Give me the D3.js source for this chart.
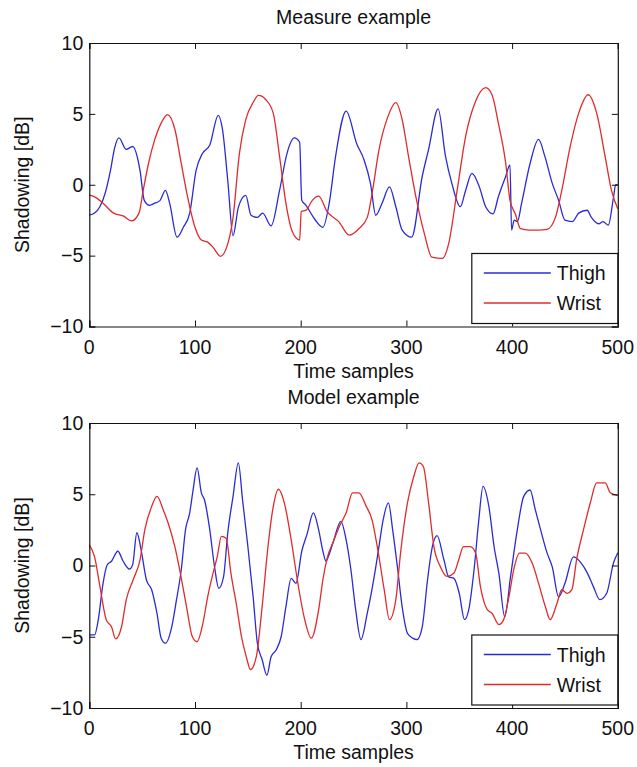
<!DOCTYPE html>
<html>
<head>
<meta charset="utf-8">
<script src="https://cdn.jsdelivr.net/npm/d3@7"></script>
<style>
  html, body { margin: 0; padding: 0; background: #fff; }
  svg { display: block; font-family: "Liberation Sans", Arial, Helvetica, sans-serif; }
</style>
</head>
<body>
<svg id="chart" width="637" height="767"></svg>
<script>
// ---------- data (sample index, shadowing dB) ----------
const xTicks = [0, 100, 200, 300, 400, 500];
const yTicks = [-10, -5, 0, 5, 10];
const seriesNames = ["Thigh", "Wrist"];
const panelTitles = ["Measure example", "Model example"];
const xLabel = "Time samples";
const yLabel = "Shadowing [dB]";

const measureThigh = [
  [0,-2.15],[5,-2.0],[10,-1.55],[15,-0.6],[20,1.0],[24,2.6],[28,3.3],[35,2.5],[41,2.7],[48,1.0],
  [52,-1.1],[57,-1.45],[62,-1.3],[67,-1.1],[72,-0.4],[76,-1.3],[83,-3.7],[89,-3.0],[95,-2.0],
  [101,1.0],[107,2.2],[114,2.8],[122,4.9],[126,3.9],[131,0.3],[136,-3.6],[141,-1.6],[148,-0.75],
  [153,-2.15],[159,-2.3],[164,-2.0],[172,-2.9],[180,-0.4],[187,2.2],[194,3.3],[199,3.0],[201,-1.1],
  [205,-1.45],[213,-2.4],[221,-3.0],[227,-1.3],[233,2.0],[243,5.2],[253,2.9],[260,1.75],[266,0.1],
  [271,-2.15],[277,-1.3],[284,-0.15],[290,-1.55],[296,-3.2],[305,-3.7],[315,0.6],[321,2.5],[330,5.35],
  [337,2.0],[343,0.1],[351,-1.55],[356,-0.4],[362,0.8],[369,-0.15],[375,-1.55],[382,-2.05],[387,-0.85],
  [394,0.6],[398,1.4],[399.5,-3.2],[402,-2.5],[405,-2.6],[409,-1.3],[417,1.5],[425,3.2],[431,2.0],
  [438,0.1],[444,-1.1],[450,-2.5],[457,-2.6],[463,-2.0],[471,-1.8],[475,-2.3],[482,-2.75],[486,-2.6],
  [491,-2.85],[496,-0.85],[498,0],[500,0]
];
const measureWrist = [
  [0,-0.73],[5,-0.85],[13,-1.3],[23,-2.0],[32,-2.2],[40,-2.55],[47,-2.0],[51,-0.4],[56,1.5],[62,3.2],
  [68,4.35],[74,4.95],[81,3.9],[87,1.5],[93,-0.85],[100,-3.0],[106,-3.9],[112,-4.05],[117,-4.4],
  [124,-5.05],[130,-4.4],[136,-2.3],[142,2.2],[148,4.6],[155,5.8],[160,6.3],[167,6.0],[174,5.05],
  [180,2.0],[186,-1.3],[192,-3.3],[199,-3.9],[200.5,-1.9],[205,-1.8],[211,-1.1],[217,-0.8],[225,-1.9],
  [236,-2.6],[246,-3.55],[255,-3.1],[263,-2.3],[268,-0.4],[274,2.45],[282,4.7],[290,5.8],[296,4.6],
  [302,2.0],[309,-0.85],[317,-3.45],[324,-5.1],[334,-5.2],[340,-4.15],[348,-0.4],[356,3.4],[365,5.8],
  [375,6.85],[381,6.35],[387,4.35],[394,1.5],[398,-1.1],[403,-2.05],[408,-3.1],[416,-3.2],[425,-3.2],
  [433,-3.15],[441,-2.3],[447,-0.4],[455,2.7],[463,5.05],[472,6.35],[480,5.05],[488,2.0],[494,-0.4],
  [500,-1.7]
];
const modelThigh = [
  [0,-4.87],[5,-4.87],[8.5,-3.8],[13,-1.25],[17,0.05],[21,0.3],[27,1.0],[32,0.3],[38,-0.25],[41,0.05],
  [45,2.3],[49,1.1],[54,-1.0],[59,-1.7],[64,-3.35],[68,-5.1],[72,-5.45],[78,-4.3],[82.5,-2.4],[87,-0.3],
  [91,2.5],[95,3.7],[98,5.2],[102,6.85],[106,5.1],[109,4.6],[114,2.5],[118.5,-0.1],[122.5,-1.6],
  [127,-0.8],[131,2.3],[136,4.85],[141,7.2],[145,4.6],[150,1.35],[155,-2.2],[159,-5.45],[163.5,-6.6],
  [168,-7.7],[172,-6.4],[177,-5.9],[181.5,-5.0],[186,-2.9],[191,-0.9],[195.5,-1.25],[201,1.0],[206,2.2],
  [212,3.7],[217,2.5],[221,1.0],[224,0.3],[226,0.6],[231,1.7],[238,3.1],[243,1.8],[247.5,-0.3],
  [252,-3.1],[257,-5.2],[263,-3.35],[269.5,-0.8],[274,1.3],[278,3.2],[283,4.4],[287,2.5],[291.5,-0.1],
  [296,-2.9],[301,-4.75],[306,-5.1],[310,-5.2],[315,-4.3],[320,-1.0],[324.5,1.3],[329,2.1],[335.5,0.4],
  [340,-0.8],[345,-0.9],[350,-1.95],[355,-3.8],[359,-3.1],[364,-0.3],[368.5,3.2],[372.5,5.55],[378,4.15],
  [383,1.3],[387.5,-0.55],[393,-3.6],[398.5,-0.8],[404.5,2.3],[411,4.85],[417,5.3],[422,3.9],[427,2.5],
  [433,0.9],[438,-0.1],[444,-2.2],[450,-1.25],[458,0.6],[465,0.2],[471,-0.5],[477,-1.5],[483,-2.4],
  [489.5,-1.95],[496,0.2],[500,0.9]
];
const modelWrist = [
  [0,1.45],[5,0.6],[10,-1.45],[16,-3.8],[21,-4.3],[25,-5.15],[30.5,-4.3],[35,-2.4],[41.5,-1.0],[48,0.4],
  [52.5,2.5],[59,4.15],[64,4.85],[70,3.9],[74.5,3.0],[81,1.3],[85.5,-0.3],[92,-2.9],[97.5,-5.0],
  [102,-5.35],[107.5,-4.05],[112,-2.2],[117,-0.55],[121,0.6],[125,2.05],[129.5,1.9],[134,-0.55],
  [139,-2.65],[144,-5.0],[148.5,-6.4],[152.5,-7.3],[158,-6.4],[163.5,-2.9],[169,1.3],[173.5,3.9],
  [179,5.35],[184.5,4.4],[191,1.8],[197,-1.1],[203.5,-3.7],[210,-5.1],[217,-3.1],[221,-1.0],[225,0.5],
  [231,1.7],[237,2.8],[243,3.7],[249,5.1],[255,5.1],[262,4.15],[267.5,3.2],[272.5,1.3],[279,-1.7],
  [284,-3.8],[290,-2.4],[294.5,0.9],[301,4.4],[307,6.25],[312,7.2],[316,6.95],[321,4.4],[326,1.33],
  [332,-0.07],[338.5,-0.77],[345,-0.53],[349.5,0.4],[354,1.33],[360.5,1.33],[365.5,0.87],[370,-1.47],
  [376.5,-3.1],[381,-3.35],[387.5,-4.15],[392,-3.8],[397,-2.2],[401.5,-0.3],[407,0.87],[412.5,0.87],
  [419,0.17],[425,-1.24],[431.5,-2.9],[436,-3.8],[442.5,-2.65],[447,-1.7],[452,-1.95],[456.5,-1.7],
  [461,0.4],[467.5,2.5],[474,4.4],[480,5.8],[488,5.8],[493,5.1],[500,4.9]
];

// ---------- layout ----------
const colors = { Thigh: "#2b2bd6", Wrist: "#e02b2b" };
const panels = [
  { title: panelTitles[0], top: 43, bottom: 326.5, series: { Thigh: measureThigh, Wrist: measureWrist } },
  { title: panelTitles[1], top: 423, bottom: 708, series: { Thigh: modelThigh, Wrist: modelWrist } }
];
const left = 89.3, right = 617.8;
const svg = d3.select("#chart");
const FS = 19.5;
const fmt = d => (d < 0 ? "\u2212" + Math.abs(d) : String(d));

panels.forEach(p => {
  const x = d3.scaleLinear().domain([0, 500]).range([left, right]);
  const y = d3.scaleLinear().domain([-10, 10]).range([p.bottom, p.top]);
  const g = svg.append("g");
  const tl = 6;

  // data lines
  const line = d3.line().x(d => x(d[0])).y(d => y(d[1])).curve(d3.curveMonotoneX);
  seriesNames.forEach(name => {
    g.append("path").datum(p.series[name])
      .attr("d", line).attr("fill", "none")
      .attr("stroke", colors[name]).attr("stroke-width", 1.3)
      .attr("stroke-linejoin", "round");
  });

  // axes with inward ticks (box style)
  const axB = d3.axisBottom(x).tickValues(xTicks).tickSize(-tl).tickFormat("");
  const axT = d3.axisTop(x).tickValues(xTicks).tickSize(-tl).tickFormat("");
  const axL = d3.axisLeft(y).tickValues(yTicks).tickSize(-tl).tickFormat("");
  const axR = d3.axisRight(y).tickValues(yTicks).tickSize(-tl).tickFormat("");
  [[axB, `translate(0,${p.bottom})`], [axT, `translate(0,${p.top})`],
   [axL, `translate(${left},0)`], [axR, `translate(${right},0)`]].forEach(([ax, tr]) => {
    const a = g.append("g").attr("transform", tr).call(ax);
    a.selectAll("path.domain").attr("stroke", "#111").attr("stroke-width", 1.2);
    a.selectAll(".tick line").attr("stroke", "#111").attr("stroke-width", 1);
  });

  // tick labels
  g.selectAll(".xl").data(xTicks).enter().append("text")
    .attr("x", d => x(d)).attr("y", p.bottom + 27)
    .attr("text-anchor", "middle").attr("font-size", FS).attr("fill", "#111")
    .text(fmt);
  g.selectAll(".yl").data(yTicks).enter().append("text")
    .attr("x", left - 6).attr("y", d => y(d)).attr("dy", "0.35em")
    .attr("text-anchor", "end").attr("font-size", FS).attr("fill", "#111")
    .text(fmt);

  // titles & labels
  g.append("text").attr("x", (left + right) / 2).attr("y", p.top - 19)
    .attr("text-anchor", "middle").attr("font-size", FS).attr("fill", "#111").text(p.title);
  g.append("text").attr("x", (left + right) / 2).attr("y", p.bottom + 51)
    .attr("text-anchor", "middle").attr("font-size", FS).attr("fill", "#111").text(xLabel);
  g.append("text").attr("transform", `translate(29,${(p.top + p.bottom) / 2}) rotate(-90)`)
    .attr("text-anchor", "middle").attr("font-size", FS).attr("fill", "#111").text(yLabel);

  // legend
  const lw = 146, lh = 70;
  const lx = right - lw, ly = p.bottom - 3 - lh;
  const lg = g.append("g").attr("transform", `translate(${lx},${ly})`);
  lg.append("rect").attr("width", lw).attr("height", lh)
    .attr("fill", "#fff").attr("stroke", "#111").attr("stroke-width", 1.2);
  seriesNames.forEach((name, i) => {
    const cy = 19.5 + i * 30;
    lg.append("line").attr("x1", 12).attr("x2", 79).attr("y1", cy).attr("y2", cy)
      .attr("stroke", colors[name]).attr("stroke-width", 1.3);
    lg.append("text").attr("x", 85).attr("y", cy).attr("dy", "0.36em")
      .attr("font-size", FS).attr("fill", "#111").text(name);
  });
});
</script>
</body>
</html>
